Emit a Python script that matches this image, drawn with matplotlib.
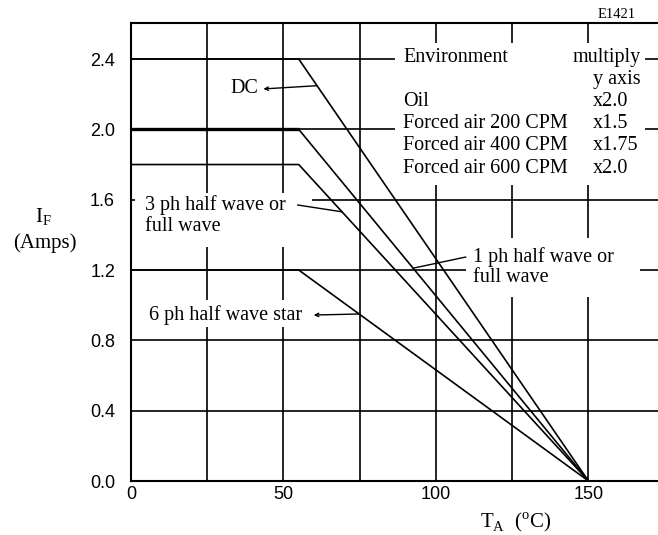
import numpy as np
import matplotlib
matplotlib.use("Agg")
import matplotlib.pyplot as plt
from matplotlib.patches import Rectangle

plt.rcParams['mathtext.fontset'] = 'custom'
plt.rcParams['mathtext.rm'] = 'Liberation Serif'

# ---- data ----
temp_pts = [0, 55, 150]
dc_vals = [2.4, 2.4, 0.0]
ph1_vals = [2.0, 2.0, 0.0]
ph3_vals = [1.8, 1.8, 0.0]
ph6_vals = [1.2, 1.2, 0.0]

x_ticks = [0, 50, 100, 150]
x_minor = [25, 75, 125]
y_ticks = [0.0, 0.4, 0.8, 1.2, 1.6, 2.0, 2.4]
y_tick_labels = ["0.0", "0.4", "0.8", "1.2", "1.6", "2.0", "2.4"]

env_names = ["Oil", "Forced air 200 CPM", "Forced air 400 CPM", "Forced air 600 CPM"]
env_mult = ["x2.0", "x1.5", "x1.75", "x2.0"]

SERIF = 'Liberation Serif'
SANS = 'Liberation Sans'
LW = 1.2

fig = plt.figure(figsize=(6.58, 5.35), dpi=100)
ax = fig.add_axes([131/658, 54/535, 527/658, 458/535])
ax.set_xlim(0, 172.8)
ax.set_ylim(0, 2.605)

ax.set_xticks(x_ticks)
ax.set_xticks(x_minor, minor=True)
ax.set_yticks(y_ticks)
ax.set_yticklabels(y_tick_labels)
ax.tick_params(which='both', length=0)
ax.tick_params(axis='y', pad=11.5)
ax.tick_params(axis='x', pad=3.5)
for lab in ax.get_xticklabels() + ax.get_yticklabels():
    lab.set_fontfamily(SANS)
    lab.set_fontsize(13)
ax.grid(which='both', color='black', lw=LW, zorder=1)
ax.set_axisbelow(True)
for s in ['left', 'bottom', 'top']:
    ax.spines[s].set_linewidth(1.5)
ax.spines['right'].set_visible(False)

# white masks behind text blocks (gaps in the grid)
def mask(x0, x1, y0, y1):
    ax.add_patch(Rectangle((x0, y0), x1 - x0, y1 - y0, facecolor='white',
                           edgecolor='none', zorder=2))

mask(86.6, 168.5, 1.684, 2.49)
mask(1.3, 59.3, 1.331, 1.638)
mask(109.8, 166.9, 1.047, 1.382)
mask(4.6, 60.7, 0.876, 1.03)

# curves
for vals in [dc_vals, ph1_vals, ph3_vals, ph6_vals]:
    ax.plot(temp_pts, vals, color='black', lw=LW, zorder=3, solid_capstyle='butt')
ax.plot(temp_pts[:2], ph1_vals[:2], color='black', lw=2.4, zorder=3, solid_capstyle='butt')

def curve_at(vals, x):
    return float(np.interp(x, temp_pts, vals))

tkw = dict(family=SERIF, fontsize=14.5, color='black', zorder=5)

# DC label
ax.text(41.6, 2.23, "DC", ha='right', va='center', **tkw)
ax.annotate("", xy=(61.0, curve_at(dc_vals, 61.0)), xytext=(43.4, 2.23),
            arrowprops=dict(arrowstyle='<-,head_length=0.25,head_width=0.12',
                            color='black', lw=1.0, shrinkA=0, shrinkB=0), zorder=5)

# 3 ph label
ax.text(4.6, 1.57, "3 ph half wave or", ha='left', va='center', **tkw)
ax.text(4.6, 1.445, "full wave", ha='left', va='center', **tkw)
ax.annotate("", xy=(69.2, curve_at(ph3_vals, 69.2)), xytext=(54.6, 1.57),
            arrowprops=dict(arrowstyle='-', color='black', lw=1.0,
                            shrinkA=0, shrinkB=0), zorder=5)

# 6 ph label
ax.text(5.9, 0.944, "6 ph half wave star", ha='left', va='center', **tkw)
ax.annotate("", xy=(74.8, curve_at(ph6_vals, 74.8)), xytext=(59.9, 0.944),
            arrowprops=dict(arrowstyle='<-,head_length=0.25,head_width=0.12',
                            color='black', lw=1.0, shrinkA=0, shrinkB=0), zorder=5)

# 1 ph label
ax.text(112.1, 1.274, "1 ph half wave or", ha='left', va='center', **tkw)
ax.text(112.1, 1.16, "full wave", ha='left', va='center', **tkw)
ax.annotate("", xy=(92.5, curve_at(ph1_vals, 92.5)), xytext=(109.8, 1.274),
            arrowprops=dict(arrowstyle='-', color='black', lw=1.0,
                            shrinkA=0, shrinkB=0), zorder=5)

# environment table
ax.text(89.2, 2.406, "Environment", ha='left', va='center', **tkw)
ax.text(144.9, 2.406, "multiply", ha='left', va='center', **tkw)
ax.text(151.5, 2.281, "y axis", ha='left', va='center', **tkw)
row_y = [2.156, 2.031, 1.906, 1.780]
for name, mult, yy in zip(env_names, env_mult, row_y):
    ax.text(89.2, yy, name, ha='left', va='center', **tkw)
    ax.text(151.5, yy, mult, ha='left', va='center', **tkw)

# figure id
fig.text(617/658, 1 - 15/535, "E1421", ha='center', va='center',
         family=SERIF, fontsize=10.5)

# axis labels
fig.text(43/658, 1 - 217/535, r"I$_\mathregular{F}$", ha='center', va='center',
         family=SERIF, fontsize=15)
fig.text(45/658, 1 - 243/535, "(Amps)", ha='center', va='center',
         family=SERIF, fontsize=15)
fig.text(516/658, 1 - 522/535, r"T$_\mathregular{A}$  ($^\mathregular{o}$C)",
         ha='center', va='center', family=SERIF, fontsize=15)

fig.savefig("out.png", dpi=100)
